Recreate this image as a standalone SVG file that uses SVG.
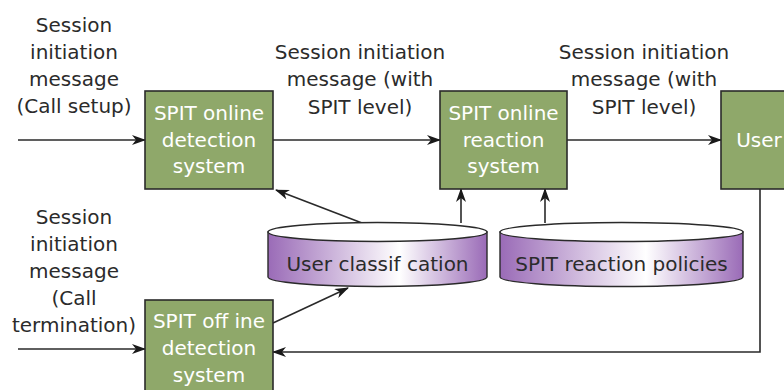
<svg xmlns="http://www.w3.org/2000/svg" width="784" height="390" viewBox="0 0 784 390">
<defs>
<style>
.box{fill:#8fa86a;stroke:#2a2a2a;stroke-width:1.6}
.bt{font-family:"DejaVu Sans",sans-serif;font-size:20px;fill:#ffffff;text-anchor:middle}
.lt{font-family:"DejaVu Sans",sans-serif;font-size:20px;fill:#2b2b2b;text-anchor:middle}
.cyl{fill:url(#pg);stroke:#2a2a2a;stroke-width:1.4}
.top{fill:#ffffff;stroke:#2a2a2a;stroke-width:1.4}
.c{fill:none;stroke:#2a2a2a;stroke-width:1.6}
</style>
<linearGradient id="pg" x1="0" y1="0" x2="1" y2="0">
<stop offset="0" stop-color="#9a6bb7"/>
<stop offset="0.6" stop-color="#ffffff"/>
<stop offset="1" stop-color="#9a6bb7"/>
</linearGradient>
<marker id="ah" viewBox="0 0 14 10" refX="13" refY="5" markerWidth="14" markerHeight="10" markerUnits="userSpaceOnUse" orient="auto">
<path d="M0,0 L14,5 L0,10 L4,5 z" fill="#1a1a1a"/>
</marker>
</defs>

<g id="labels">
<text class="lt" x="74" y="32">Session</text>
<text class="lt" x="74" y="59">initiation</text>
<text class="lt" x="74" y="86">message</text>
<text class="lt" x="74" y="113">(Call setup)</text>
<text class="lt" x="360" y="59">Session initiation</text>
<text class="lt" x="360" y="86">message (with</text>
<text class="lt" x="360" y="114">SPIT level)</text>
<text class="lt" x="644" y="59">Session initiation</text>
<text class="lt" x="644" y="86">message (with</text>
<text class="lt" x="644" y="114">SPIT level)</text>
<text class="lt" x="74" y="224">Session</text>
<text class="lt" x="74" y="251">initiation</text>
<text class="lt" x="74" y="278">message</text>
<text class="lt" x="74" y="305">(Call</text>
<text class="lt" x="74" y="332">termination)</text>
</g>

<g id="connectors">
<line class="c" x1="18" y1="140" x2="145" y2="140" marker-end="url(#ah)"/>
<line class="c" x1="273" y1="140" x2="440" y2="140" marker-end="url(#ah)"/>
<line class="c" x1="567" y1="140" x2="721" y2="140" marker-end="url(#ah)"/>
<line class="c" x1="18" y1="349" x2="145" y2="349" marker-end="url(#ah)"/>
<polyline class="c" points="760,189 760,352 273,352" marker-end="url(#ah)"/>
<line class="c" x1="273" y1="323" x2="348" y2="288" marker-end="url(#ah)"/>
<line class="c" x1="362" y1="223" x2="276" y2="190" marker-end="url(#ah)"/>
<line class="c" x1="461" y1="223" x2="461" y2="189" marker-end="url(#ah)"/>
<line class="c" x1="545" y1="223" x2="545" y2="189" marker-end="url(#ah)"/>
</g>

<g id="online-detection">
<rect class="box" x="145" y="91" width="128" height="98"/>
<text class="bt" x="209" y="120">SPIT online</text>
<text class="bt" x="209" y="147">detection</text>
<text class="bt" x="209" y="173">system</text>
</g>

<g id="online-reaction">
<rect class="box" x="440" y="91" width="127" height="98"/>
<text class="bt" x="503.5" y="120">SPIT online</text>
<text class="bt" x="503.5" y="147">reaction</text>
<text class="bt" x="503.5" y="173">system</text>
</g>

<g id="user">
<rect class="box" x="721" y="91" width="80" height="98"/>
<text class="bt" x="759" y="147">User</text>
</g>

<g id="offline-detection">
<rect class="box" x="145" y="300" width="128" height="100"/>
<text class="bt" x="209" y="328">SPIT off ine</text>
<text class="bt" x="209" y="355">detection</text>
<text class="bt" x="209" y="382">system</text>
</g>

<g id="user-classification">
<path class="cyl" d="M268,232 V277 A109.5,9.5 0 0 0 487,277 V232 Z"/>
<ellipse class="top" cx="377.5" cy="232" rx="109.5" ry="9.5"/>
<text class="lt" x="377.5" y="271">User classif cation</text>
</g>

<g id="reaction-policies">
<path class="cyl" d="M500,232 V277 A121.5,9.5 0 0 0 743,277 V232 Z"/>
<ellipse class="top" cx="621.5" cy="232" rx="121.5" ry="9.5"/>
<text class="lt" x="621.5" y="271">SPIT reaction policies</text>
</g>
</svg>
